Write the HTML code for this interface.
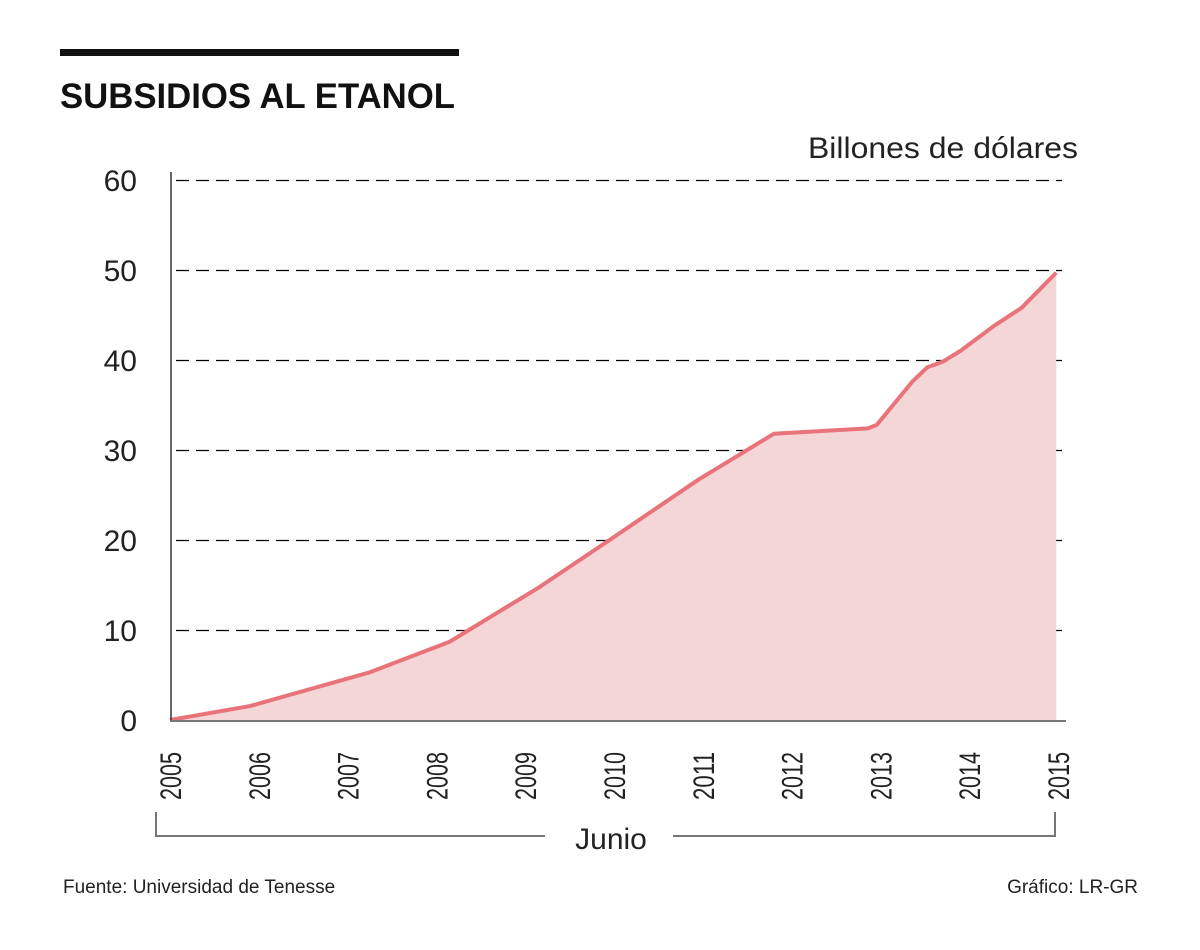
<!DOCTYPE html>
<html><head><meta charset="utf-8"><style>
body{margin:0;background:#fff;width:1200px;height:945px;overflow:hidden;font-family:"Liberation Sans",sans-serif}
</style></head><body>
<svg width="1200" height="945" xmlns="http://www.w3.org/2000/svg">
<rect x="60" y="49" width="399" height="7" fill="#111"/>
<text x="60" y="108" font-size="35" font-weight="bold" fill="#111" textLength="395" lengthAdjust="spacingAndGlyphs">SUBSIDIOS AL ETANOL</text>
<text x="1078" y="158" font-size="30" fill="#222" text-anchor="end" textLength="270" lengthAdjust="spacingAndGlyphs">Billones de dólares</text>
<g id="grid"></g><g id="plot"></g><g id="xlab"></g>
<path d="M156 812 V836 H545 M673 836 H1055 V812" fill="none" stroke="#777" stroke-width="2"/>
<text x="611" y="849" font-size="30" fill="#222" text-anchor="middle">Junio</text>
<text x="63" y="893" font-size="19" fill="#222">Fuente: Universidad de Tenesse</text>
<text x="1138" y="893" font-size="19" fill="#222" text-anchor="end">Gráfico: LR-GR</text>
</svg>
<script>
const yTicks=[0,10,20,30,40,50,60];
const years=[2005,2006,2007,2008,2009,2010,2011,2012,2013,2014,2015];
const xVals=[2005,2005.9,2007.25,2008.15,2009.15,2009.95,2010.95,2011.8,2012.86,2012.96,2013.36,2013.53,2013.7,2013.9,2014.28,2014.59,2014.98];
const yVals=[0,1.55,5.3,8.7,14.7,20,26.7,31.8,32.4,32.8,37.6,39.2,39.8,41,43.8,45.8,49.7];
const NS="http://www.w3.org/2000/svg";
const X=v=>170+(v-2005)*88.8, Y=v=>720-v*9;
function mk(t,a,p){const e=document.createElementNS(NS,t);for(const k in a)e.setAttribute(k,a[k]);p.appendChild(e);return e;}
const g=document.getElementById('grid'),p=document.getElementById('plot'),xl=document.getElementById('xlab');
yTicks.forEach(v=>{
 if(v>0){const l=mk('line',{x1:176,x2:1062,y1:Y(v)+0.5,y2:Y(v)+0.5,stroke:'#000','stroke-width':1.2,'stroke-dasharray':'13 7'},g);
 
 }
 const t=mk('text',{x:137,y:Y(v)+11,'font-size':30,fill:'#222','text-anchor':'end'},g);t.textContent=v;
 
 
});
let pts=xVals.map((x,i)=>X(x)+','+Y(yVals[i]));
const area=mk('polygon',{points:pts.join(' ')+' '+X(xVals[xVals.length-1])+','+Y(0)+' '+X(2005)+','+Y(0),fill:'#f4d6d7'},p);


const ln=mk('polyline',{points:pts.join(' '),fill:'none',stroke:'#e9737b','stroke-width':4,'stroke-linejoin':'round'},p);


const ya=mk('line',{x1:171,x2:171,y1:172,y2:720,stroke:'#333','stroke-width':1.5},p);


const xa=mk('line',{x1:170,x2:1066,y1:721,y2:721,stroke:'#777','stroke-width':2},p);


years.forEach(yr=>{
 const x=X(yr)+11,y=800;
 const t=mk('text',{x:x,y:y,'font-size':30,fill:'#222',transform:`rotate(-90 ${x} ${y})`,textLength:48,lengthAdjust:'spacingAndGlyphs'},xl);
 t.textContent=yr;
 
 
});
</script>
</body></html>
